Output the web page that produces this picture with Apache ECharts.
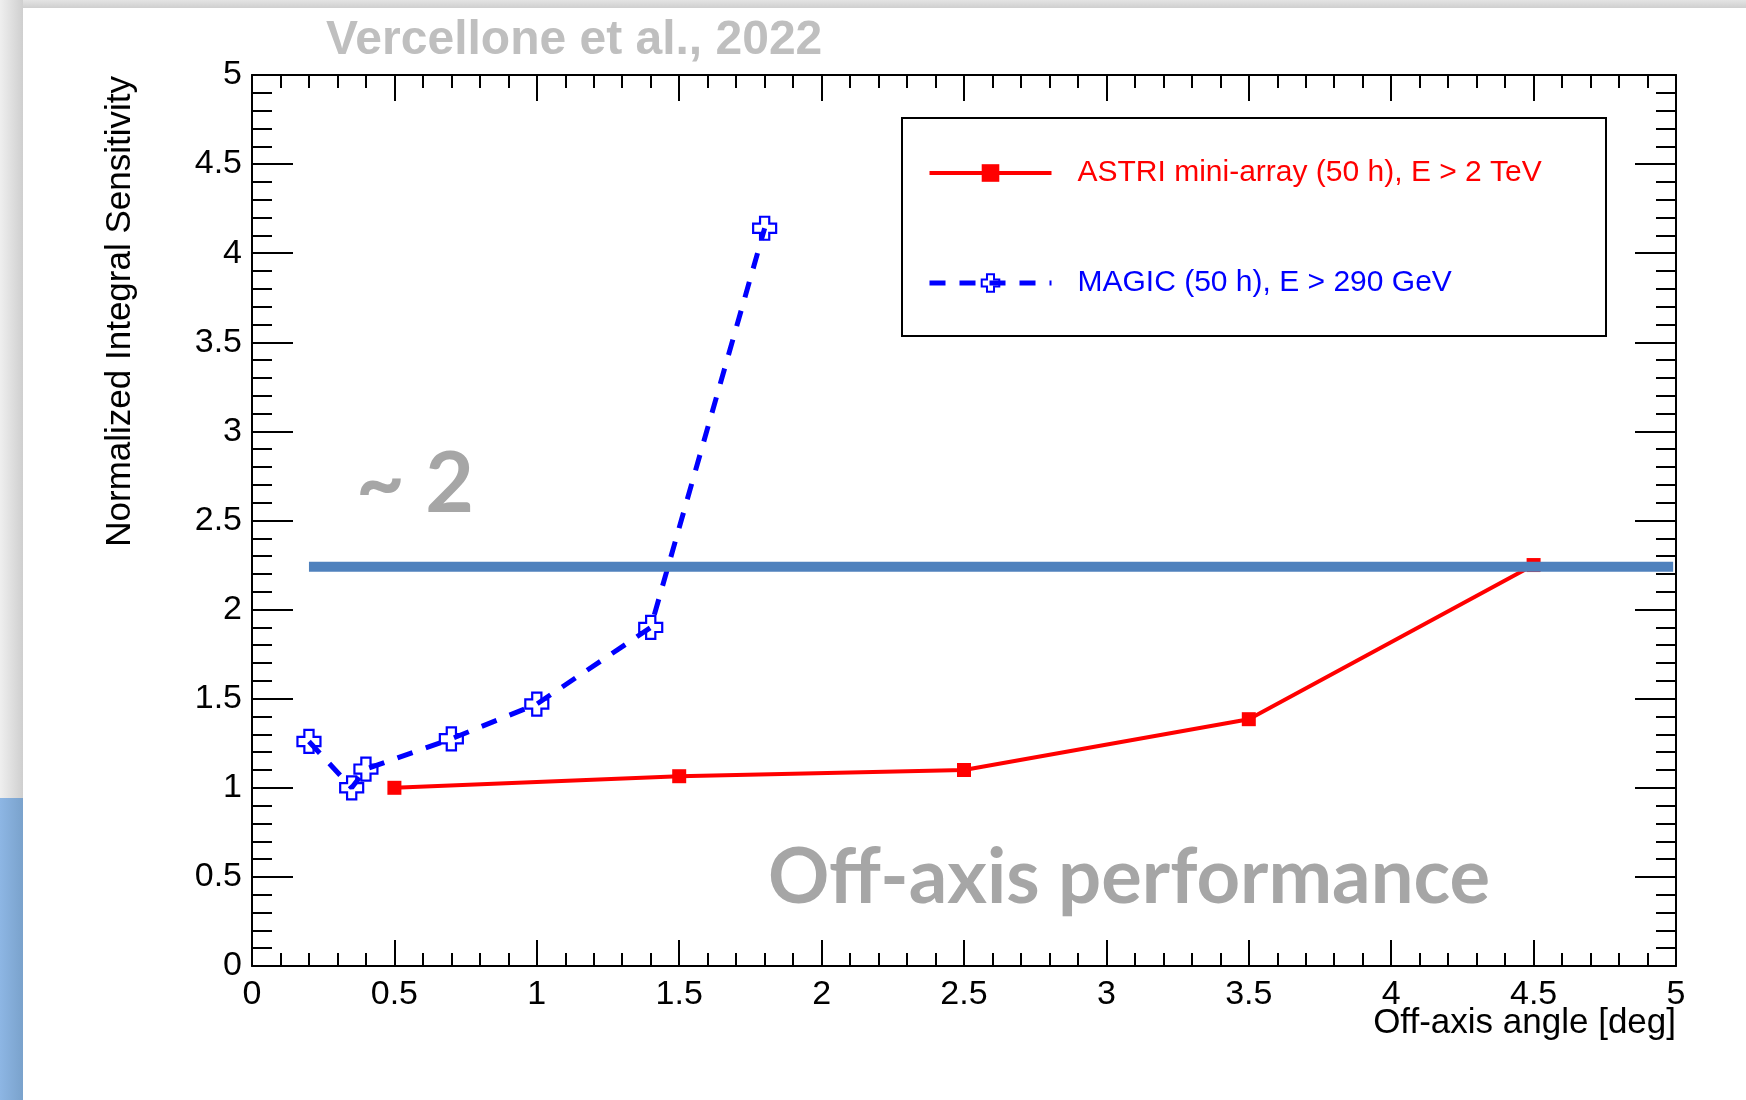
<!DOCTYPE html>
<html>
<head>
<meta charset="utf-8">
<style>
html,body{margin:0;padding:0;background:#fff;}
#chart{width:1746px;height:1100px;}
</style>
<script src="https://cdn.jsdelivr.net/npm/echarts@6/dist/echarts.min.js"></script>
</head>
<body>
<div id="chart"></div>
<script>
// ---- data ----
const magicX = [0.2, 0.35, 0.4, 0.7, 1.0, 1.4, 1.8];
const magicY = [1.26, 1.0, 1.105, 1.275, 1.47, 1.9, 4.14];
const astriX = [0.5, 1.5, 2.5, 3.5, 4.5];
const astriY = [1.0, 1.065, 1.10, 1.385, 2.25];
const refLineX = [0.2, 4.99];
const refLineY = [2.24, 2.24];
const astriName = 'ASTRI mini-array (50 h), E > 2 TeV';
const magicName = 'MAGIC (50 h), E > 290 GeV';
const xTitle = 'Off-axis angle [deg]';
const yTitle = 'Normalized Integral Sensitivity';
const topNote = 'Vercellone et al., 2022';
const approxNote = '~ 2';
const perfNote = 'Off-axis performance';

const chart = echarts.init(document.getElementById('chart'), null, {renderer: 'canvas'});
const FONT = '"Liberation Sans", Arial, sans-serif';
const crossPath = 'path://M3,0L7,0L7,3L10,3L10,7L7,7L7,10L3,10L3,7L0,7L0,3L3,3Z';

function xAxisCfg(pos, showLabel) {
  return {
    type: 'value', min: 0, max: 5, interval: 0.5, position: pos,
    axisLine: {show: true, onZero: false, lineStyle: {color: '#000', width: 2}},
    axisTick: {show: true, inside: true, length: 26, lineStyle: {color: '#000', width: 2}},
    minorTick: {show: true, splitNumber: 5, length: 13, lineStyle: {color: '#000', width: 2}},
    splitLine: {show: false},
    axisLabel: {show: showLabel, fontSize: 34, color: '#000', margin: 12, fontFamily: FONT}
  };
}
function yAxisCfg(pos, showLabel) {
  return {
    type: 'value', min: 0, max: 5, interval: 0.5, position: pos,
    axisLine: {show: true, onZero: false, lineStyle: {color: '#000', width: 2}},
    axisTick: {show: true, inside: true, length: 41, lineStyle: {color: '#000', width: 2}},
    minorTick: {show: true, splitNumber: 5, length: 20, lineStyle: {color: '#000', width: 2}},
    splitLine: {show: false},
    axisLabel: {show: showLabel, fontSize: 34, color: '#000', margin: 10, fontFamily: FONT}
  };
}

const option = {
  animation: false,
  backgroundColor: '#ffffff',
  grid: {left: 252, right: 70, top: 75, bottom: 134, containLabel: false, outerBoundsMode: 'none'},
  xAxis: [xAxisCfg('bottom', true), xAxisCfg('top', false)],
  yAxis: [yAxisCfg('left', true), yAxisCfg('right', false)],
  legend: {
    orient: 'vertical', left: 922, top: 153,
    itemWidth: 122, itemHeight: 22, itemGap: 80,
    textStyle: {fontSize: 30, fontFamily: FONT, lineHeight: 30, padding: [0, 0, 0, 21]},
    data: [
      {name: astriName, textStyle: {color: '#ff0000'}, lineStyle: {width: 4}},
      {name: magicName, textStyle: {color: '#0000ff'}, lineStyle: {width: 5}}
    ],
    selectedMode: false, z: 10
  },
  graphic: [
    {type: 'rect', shape: {x: 0, y: 0, width: 1746, height: 8}, z: 0, silent: true,
     style: {fill: new echarts.graphic.LinearGradient(0, 0, 0, 1, [{offset: 0, color: '#E4E4E4'}, {offset: 1, color: '#CFCFCF'}])}},
    {type: 'rect', shape: {x: 0, y: 0, width: 23, height: 798}, z: 0, silent: true,
     style: {fill: new echarts.graphic.LinearGradient(0, 0, 1, 0, [{offset: 0, color: '#EFEFEF'}, {offset: 1, color: '#CFCFCF'}])}},
    {type: 'rect', shape: {x: 0, y: 798, width: 23, height: 302}, z: 0, silent: true,
     style: {fill: new echarts.graphic.LinearGradient(0, 0, 1, 0, [{offset: 0, color: '#8DB6E4'}, {offset: 1, color: '#7AA2CC'}])}},
    {type: 'rect', shape: {x: 902, y: 118, width: 704, height: 218}, z: 8, silent: true,
     style: {fill: '#ffffff', stroke: '#000000', lineWidth: 2}},
    {type: 'text', x: 326, y: 41, z: 10, silent: true,
     style: {text: topNote, fill: '#BFBFBF', font: 'bold 48px ' + FONT, align: 'left', verticalAlign: 'middle'}},
    {type: 'text', x: 120, y: 76, rotation: Math.PI / 2, z: 10, silent: true,
     style: {text: yTitle, fill: '#000', font: '35px ' + FONT, align: 'right', verticalAlign: 'middle'}},
    {type: 'text', x: 1676, y: 1023, z: 10, silent: true,
     style: {text: xTitle, fill: '#000', font: '35px ' + FONT, align: 'right', verticalAlign: 'middle'}},
    {type: 'text', x: 356, y: 485, z: 10, silent: true,
     style: {text: approxNote, fill: '#A6A6A6', font: 'bold 84px Lato, "Open Sans", sans-serif', align: 'left', verticalAlign: 'middle'}},
    {type: 'text', x: 768, y: 878, z: 10, silent: true,
     style: {text: perfNote, fill: '#A6A6A6', font: 'bold 76px Lato, "Open Sans", sans-serif', align: 'left', verticalAlign: 'middle'}}
  ],
  series: [
    {
      name: astriName, type: 'line', z: 3,
      data: astriX.map((x, i) => [x, astriY[i]]),
      symbol: 'rect', symbolSize: 14,
      lineStyle: {color: '#ff0000', width: 4},
      itemStyle: {color: '#ff0000'}
    },
    {
      name: magicName, type: 'line', z: 4,
      data: magicX.map((x, i) => [x, magicY[i]]),
      symbol: crossPath, symbolSize: 23, symbolKeepAspect: true,
      lineStyle: {color: '#0000ff', width: 5, type: [16, 14]},
      itemStyle: {color: 'rgba(255,255,255,0)', borderColor: '#0000ff', borderWidth: 2.2}
    },
    {
      name: 'ref', type: 'line', z: 6,
      data: refLineX.map((x, i) => [x, refLineY[i]]),
      symbol: 'none',
      lineStyle: {color: '#4F81BD', width: 10, cap: 'butt'},
      silent: true
    }
  ]
};
chart.setOption(option);
</script>
</body>
</html>
